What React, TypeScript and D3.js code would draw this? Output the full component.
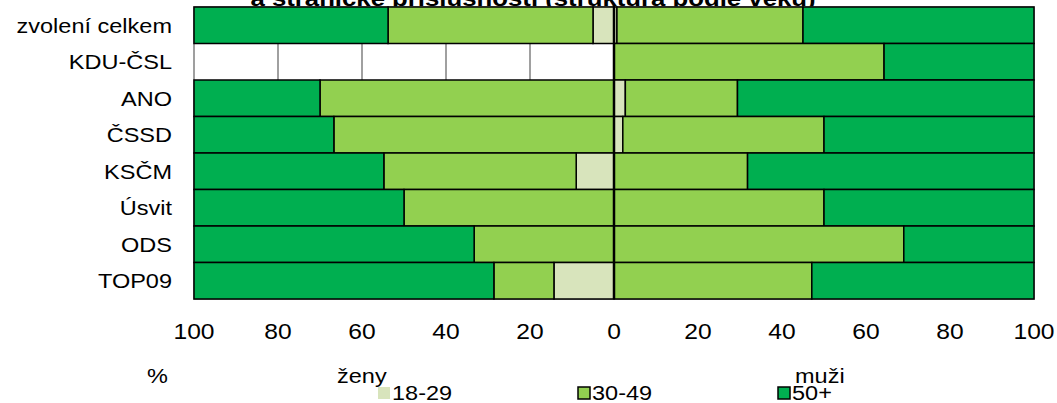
import React from "react";
import * as d3 from "d3";

// rows top to bottom
const categories = ["zvolení celkem", "KDU-ČSL", "ANO", "ČSSD", "KSČM", "Úsvit", "ODS", "TOP09"];
const ageGroups = ["18-29", "30-49", "50+"];

// ženy (women) shares in %, drawn to the left of 0
const zeny1829 = [5.0, 0, 0, 0, 9.0, 0, 0, 14.3];
const zeny3049 = [48.8, 0, 70.0, 66.7, 45.8, 50.0, 33.3, 14.3];
const zeny50 = [46.2, 0, 30.0, 33.3, 45.2, 50.0, 66.7, 71.4];

// muži (men) shares in %, drawn to the right of 0
const muzi1829 = [0.7, 0, 2.7, 2.1, 0, 0, 0, 0];
const muzi3049 = [44.3, 64.3, 26.7, 47.9, 31.8, 50.0, 69.0, 47.1];
const muzi50 = [55.0, 35.7, 70.6, 50.0, 68.2, 50.0, 31.0, 52.9];

const ticks = [-100, -80, -60, -40, -20, 0, 20, 40, 60, 80, 100];
const gridTicks = [-80, -60, -40, -20, 20, 40, 60, 80];

const colors = ["#D8E4BC", "#92D050", "#00AF50"];

const W = 1057;
const H = 403;
const FONT = "'Liberation Sans', Arial, sans-serif";
const SX = 1.12; // the original text is stretched a bit horizontally

type Seg = { key: string; x0: number; x1: number; k: number };

function Txt(props: { x: number; y: number; size: number; anchor?: string; bold?: boolean; children: React.ReactNode }) {
  const { x, y, size, anchor = "start", bold = false, children } = props;
  return (
    <text
      transform={`translate(${x},${y}) scale(${SX},1)`}
      textAnchor={anchor}
      fontFamily={FONT}
      fontSize={size}
      fontWeight={bold ? "bold" : "normal"}
      fill="#000"
    >
      {children}
    </text>
  );
}

export default function App() {
  const x = d3.scaleLinear().domain([-100, 100]).range([194, 1034]);
  const y = d3.scaleBand().domain(categories).range([7, 299]).padding(0);

  const women = [zeny1829, zeny3049, zeny50];
  const men = [muzi1829, muzi3049, muzi50];

  // stack outwards from zero on both sides
  const segs: Seg[] = [];
  categories.forEach((c, i) => {
    let accW = 0;
    let accM = 0;
    for (let k = 0; k < ageGroups.length; k++) {
      const w = women[k][i];
      if (w > 0) segs.push({ key: c, x0: -(accW + w), x1: -accW, k });
      accW += w;
      const m = men[k][i];
      if (m > 0) segs.push({ key: c, x0: accM, x1: accM + m, k });
      accM += m;
    }
  });

  const [y0, y1] = y.range();

  return (
    <svg width={W} height={H} style={{ position: "absolute", left: 0, top: 0, background: "#fff" }}>
      <rect width={W} height={H} fill="#fff" />

      {/* title, mostly cut off at the top */}
      <Txt x={533} y={6} size={23} anchor="middle" bold>
        a stranické příslušnosti (struktura podle věku)
      </Txt>

      {/* plot area */}
      <rect x={x(-100)} y={y0} width={x(100) - x(-100)} height={y1 - y0} fill="#fff" stroke="#808080" strokeWidth={1.5} />
      {gridTicks.map((t) => (
        <line key={t} x1={x(t)} x2={x(t)} y1={y0} y2={y1} stroke="#808080" strokeWidth={1.5} />
      ))}

      {segs.map((s, j) => (
        <rect
          key={j}
          x={x(s.x0)}
          y={y(s.key)!}
          width={x(s.x1) - x(s.x0)}
          height={y.bandwidth()}
          fill={colors[s.k]}
          stroke="#000"
          strokeWidth={1.5}
        />
      ))}

      <line x1={x(0)} x2={x(0)} y1={y0 - 2} y2={y1} stroke="#000" strokeWidth={2.5} />

      {/* category labels */}
      {categories.map((c) => (
        <Txt key={c} x={172} y={y(c)! + y.bandwidth() / 2 + 7.5} size={21} anchor="end">
          {c}
        </Txt>
      ))}

      {/* x tick labels */}
      {ticks.map((t) => (
        <Txt key={t} x={x(t)} y={339} size={22} anchor="middle">
          {Math.abs(t)}
        </Txt>
      ))}

      <Txt x={147} y={383} size={21}>%</Txt>
      <Txt x={337} y={383} size={21}>ženy</Txt>
      <Txt x={795} y={383} size={21}>muži</Txt>

      {/* legend */}
      {ageGroups.map((g, k) => {
        const lx = 378 + k * 200;
        return (
          <g key={g}>
            <rect
              x={lx}
              y={387}
              width={12}
              height={12}
              fill={colors[k]}
              stroke={k === 0 ? "none" : "#000"}
              strokeWidth={1.5}
            />
            <Txt x={lx + 14} y={400} size={21}>
              {g}
            </Txt>
          </g>
        );
      })}
    </svg>
  );
}
